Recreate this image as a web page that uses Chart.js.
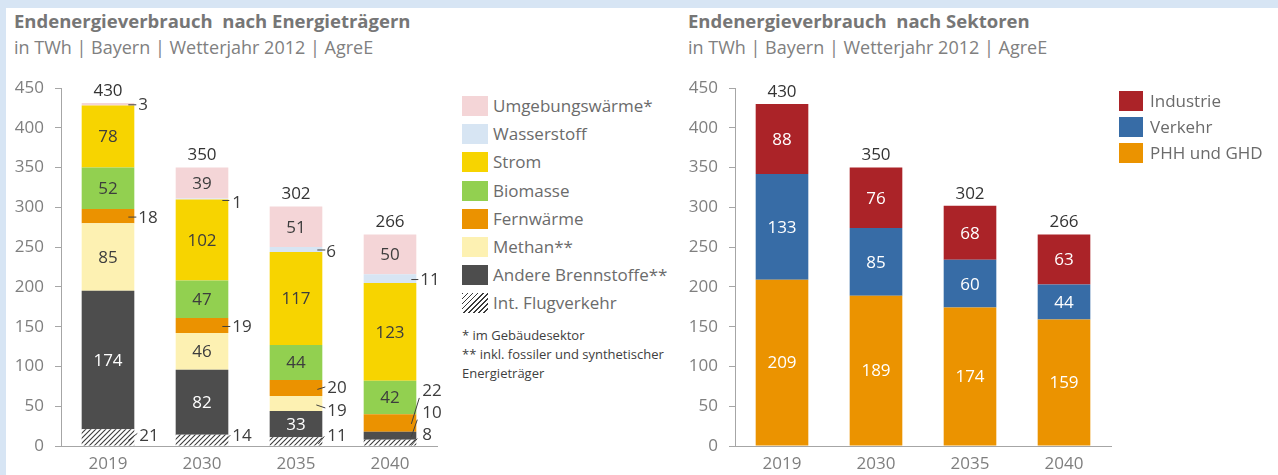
<!DOCTYPE html>
<html lang="de">
<head>
<meta charset="utf-8">
<title>Endenergieverbrauch Bayern</title>
<script src="https://cdn.jsdelivr.net/npm/chart.js@4.4.1/dist/chart.umd.min.js"></script>
<style>
  html, body { margin: 0; padding: 0; background: #fff; }
  body { width: 1278px; height: 475px; position: relative; overflow: hidden; font-family: "Open Sans", sans-serif; }
  .band-top { position: absolute; left: 0; top: 0; width: 1278px; height: 8px; background: #d7e5f4; }
  .band-left { position: absolute; left: 0; top: 0; width: 6px; height: 475px; background: #d7e5f4; }
  .title { position: absolute; top: 8px; font-weight: 700; font-size: 18.5px; color: #767676; white-space: pre; }
  .sub { position: absolute; top: 35px; font-size: 18px; color: #808080; white-space: pre; }
  canvas { position: absolute; top: 0; }
  .legend { position: absolute; top: 0; }
  .legend .item { position: absolute; left: 0; height: 20px; white-space: nowrap; }
  .legend .sw { position: absolute; left: 0; top: 0; height: 20px; }
  .legend .lbl { position: absolute; top: 50%; transform: translateY(-52%); font-size: 17px; color: #6b6b6b; line-height: 1; }
  .note { position: absolute; left: 462px; font-size: 13px; color: #404040; white-space: pre; line-height: 1; }
</style>
</head>
<body>
<div class="band-top"></div>
<div class="band-left"></div>

<div class="title" style="left:14px">Endenergieverbrauch  nach Energieträgern</div>
<div class="sub" style="left:14px">in TWh | Bayern | Wetterjahr 2012 | AgreE</div>
<div class="title" style="left:688px">Endenergieverbrauch  nach Sektoren</div>
<div class="sub" style="left:688px">in TWh | Bayern | Wetterjahr 2012 | AgreE</div>

<canvas id="traeger" width="460" height="475" style="left:0"></canvas>
<canvas id="sektoren" width="460" height="475" style="left:674px"></canvas>

<div class="legend" id="legendTraeger" style="left:462px"></div>
<div class="legend" id="legendSektoren" style="left:1119px"></div>

<div class="note" style="top:329px">* im Gebäudesektor</div>
<div class="note" style="top:348px">** inkl. fossiler und synthetischer</div>
<div class="note" style="top:367px">Energieträger</div>

<script>
// ---- Data: final energy by carrier (TWh) ----
const years = ['2019', '2030', '2035', '2040'];

const flugverkehr       = [21, 14, 11, 8];
const andereBrennstoffe = [174, 82, 33, 10];
const methan            = [85, 46, 19, 0];
const fernwaerme        = [18, 19, 20, 22];
const biomasse          = [52, 47, 44, 42];
const strom             = [78, 102, 117, 123];
const wasserstoff       = [0, 1, 6, 11];
const umgebungswaerme   = [3, 39, 51, 50];
const totalTraeger      = [430, 350, 302, 266];

// ---- Data: final energy by sector (TWh) ----
const phhGhd            = [209, 189, 174, 159];
const verkehr           = [133, 85, 60, 44];
const industrie         = [88, 76, 68, 63];
const totalSektoren     = [430, 350, 302, 266];

const yMin = 0, yMax = 450, yStep = 50;

const FONT = '"Open Sans", sans-serif';
const DARK_TEXT = '#3d3d3d';

// diagonal hatch used for international aviation
function hatchPattern() {
  const s = 5;
  const c = document.createElement('canvas');
  c.width = s; c.height = s;
  const g = c.getContext('2d');
  g.fillStyle = '#ffffff';
  g.fillRect(0, 0, s, s);
  g.strokeStyle = '#3a3a3a';
  g.lineWidth = 1.1;
  const seg = (x1, y1, x2, y2) => { g.beginPath(); g.moveTo(x1, y1); g.lineTo(x2, y2); g.stroke(); };
  seg(-1, s + 1, s + 1, -1);
  seg(-1, 1, 1, -1);
  seg(s - 1, s + 1, s + 1, s - 1);
  return g.createPattern(c, 'repeat');
}
const HATCH = hatchPattern();

// datasets are stacked bottom-up in this order
const traegerSeries = [
  { label: 'Int. Flugverkehr',     data: flugverkehr,       color: HATCH,     legendCss: 'repeating-linear-gradient(135deg, #3a3a3a 0 1.2px, #fff 1.2px 3.6px)', text: DARK_TEXT },
  { label: 'Andere Brennstoffe**', data: andereBrennstoffe, color: '#4d4d4d', text: '#ffffff' },
  { label: 'Methan**',             data: methan,            color: '#fdf1b2', text: DARK_TEXT },
  { label: 'Fernwärme',            data: fernwaerme,        color: '#eb9200', text: DARK_TEXT },
  { label: 'Biomasse',             data: biomasse,          color: '#92d050', text: DARK_TEXT },
  { label: 'Strom',                data: strom,             color: '#f7d400', text: DARK_TEXT },
  { label: 'Wasserstoff',          data: wasserstoff,       color: '#d7e5f3', text: DARK_TEXT },
  { label: 'Umgebungswärme*',      data: umgebungswaerme,   color: '#f4d5d7', text: DARK_TEXT }
];

const sektorSeries = [
  { label: 'PHH und GHD', data: phhGhd,    color: '#eb9300', text: '#ffffff' },
  { label: 'Verkehr',     data: verkehr,   color: '#376ca6', text: '#ffffff' },
  { label: 'Industrie',   data: industrie, color: '#ab2328', text: '#ffffff' }
];

// values written beside the bar with a short leader line.
// l = [x1, y1, x2, y2] relative to (bar right edge, segment centre), t = [x, y] text anchor
const traegerCallouts = [
  { s: 'Umgebungswärme*',      i: 0, l: [-6, 0.5, 2, 0.5],  t: [4, 1] },
  { s: 'Fernwärme',            i: 0, l: [-6, 1, 2, 1],      t: [4, 2] },
  { s: 'Int. Flugverkehr',     i: 0, l: [-6, 3, 3, -4],     t: [5, -1] },
  { s: 'Wasserstoff',          i: 1, l: [-6, 1.5, 1, 1.5],  t: [4, 4] },
  { s: 'Fernwärme',            i: 1, l: [-6, 1, 2, 1],      t: [4, 1.5] },
  { s: 'Int. Flugverkehr',     i: 1, l: [-6, 3, 2, -5],     t: [4, -4] },
  { s: 'Wasserstoff',          i: 2, l: [-5, 0.5, 3, 0.5],  t: [4, 2.5] },
  { s: 'Fernwärme',            i: 2, l: [-5, 1.5, 3, -1],   t: [5, 0] },
  { s: 'Methan**',             i: 2, l: [-6, 1.5, 3, 4.5],  t: [5, 7.5] },
  { s: 'Int. Flugverkehr',     i: 2, l: [-4, 2.5, 2, -5],   t: [5, -5.5] },
  { s: 'Wasserstoff',          i: 3, l: [-5, 1, 2, 1],      t: [4, 1.5] },
  { s: 'Fernwärme',            i: 3, l: [-5, 1, 3, -25],    t: [6, -32] },
  { s: 'Andere Brennstoffe**', i: 3, l: [-5, 1, 1, -16],    t: [6, -23] },
  { s: 'Int. Flugverkehr',     i: 3, l: [-5, 3, 1, -4],     t: [6, -7] }
];

const barLabels = {
  id: 'barLabels',
  afterDatasetsDraw(chart, args, opts) {
    const ctx = chart.ctx;
    ctx.save();
    ctx.font = '17px ' + FONT;
    ctx.textBaseline = 'middle';
    const callouts = opts.callouts || [];
    chart.data.datasets.forEach((ds, di) => {
      const meta = chart.getDatasetMeta(di);
      meta.data.forEach((bar, i) => {
        const v = ds.data[i];
        if (!v) return;
        const cy = (bar.y + bar.base) / 2;
        const right = bar.x + bar.width / 2;
        const co = callouts.find(c => c.s === ds.label && c.i === i);
        if (co) {
          ctx.strokeStyle = '#404040';
          ctx.lineWidth = 1;
          ctx.beginPath();
          ctx.moveTo(right + co.l[0], cy + co.l[1]);
          ctx.lineTo(right + co.l[2], cy + co.l[3]);
          ctx.stroke();
          ctx.fillStyle = DARK_TEXT;
          ctx.textAlign = 'left';
          ctx.fillText(String(v), right + co.t[0], cy + co.t[1]);
        } else {
          ctx.fillStyle = ds.textColor;
          ctx.textAlign = 'center';
          ctx.fillText(String(v), bar.x, cy + 1);
        }
      });
    });
    // stack totals above each bar
    const totals = opts.totals || [];
    const yS = chart.scales.y;
    const xS = chart.scales.x;
    ctx.fillStyle = '#333333';
    ctx.textAlign = 'center';
    totals.forEach((t, i) => {
      let sum = 0;
      chart.data.datasets.forEach(ds => { sum += ds.data[i] || 0; });
      ctx.fillText(String(t), xS.getPixelForValue(i), yS.getPixelForValue(sum) - 12);
    });
    ctx.restore();
  }
};

function makeChart(canvasId, series, callouts, totals) {
  return new Chart(document.getElementById(canvasId), {
    type: 'bar',
    data: {
      labels: years,
      datasets: series.map(s => ({
        label: s.label,
        data: s.data,
        backgroundColor: s.color,
        textColor: s.text,
        borderWidth: 0,
        categoryPercentage: 1,
        barPercentage: 0.56
      }))
    },
    options: {
      responsive: false,
      animation: false,
      devicePixelRatio: 1,
      layout: { padding: { top: 88, right: 23, bottom: 0, left: 0 } },
      plugins: {
        legend: { display: false },
        tooltip: { enabled: false },
        barLabels: { callouts: callouts, totals: totals }
      },
      scales: {
        x: {
          stacked: true,
          ticks: { padding: 8, color: '#7f7f7f', font: { family: FONT, size: 17 } },
          grid: { display: false, drawTicks: false },
          border: { display: true, color: '#a6a6a6', width: 1 },
          afterFit(s) { s.height = 29; }
        },
        y: {
          stacked: true,
          min: yMin, max: yMax,
          ticks: { stepSize: yStep, padding: 11, color: '#7f7f7f', font: { family: FONT, size: 17 } },
          grid: { drawOnChartArea: false, drawTicks: true, tickLength: 6, color: '#a6a6a6' },
          border: { display: true, color: '#a6a6a6', width: 1 },
          afterFit(s) { s.width = 61; }
        }
      }
    },
    plugins: [barLabels]
  });
}

makeChart('traeger', traegerSeries, traegerCallouts, totalTraeger);
makeChart('sektoren', sektorSeries, [], totalSektoren);

// HTML legends, listed top-down (reverse of stacking order)
function buildLegend(elId, series, top, step, swW, textX) {
  const el = document.getElementById(elId);
  series.slice().reverse().forEach((s, k) => {
    const item = document.createElement('div');
    item.className = 'item';
    item.style.top = (top + k * step) + 'px';
    const sw = document.createElement('div');
    sw.className = 'sw';
    sw.style.width = swW + 'px';
    sw.style.background = s.legendCss || s.color;
    const lbl = document.createElement('div');
    lbl.className = 'lbl';
    lbl.style.left = textX + 'px';
    lbl.textContent = s.label;
    item.appendChild(sw);
    item.appendChild(lbl);
    el.appendChild(item);
  });
}
buildLegend('legendTraeger', traegerSeries, 96, 28.2, 26, 31);
buildLegend('legendSektoren', sektorSeries, 91, 26, 24, 31);
</script>
</body>
</html>
